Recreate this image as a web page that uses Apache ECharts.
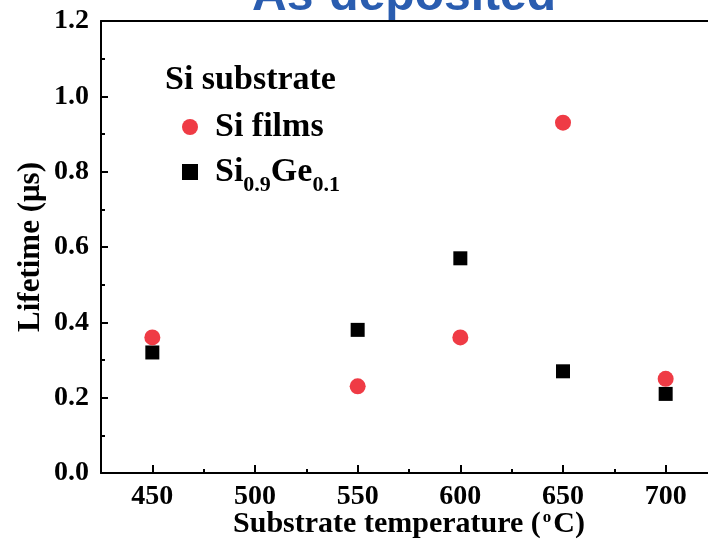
<!DOCTYPE html>
<html>
<head>
<meta charset="utf-8">
<script src="https://cdn.jsdelivr.net/npm/echarts@6/dist/echarts.min.js"></script>
<style>html,body{margin:0;padding:0;background:#fff}#c{width:708px;height:543px}</style>
</head>
<body>
<div id="c"></div>
<script>
var temperatures = [450, 550, 600, 650, 700];
var siFilms = [0.36, 0.23, 0.36, 0.93, 0.25];
var siGe = [0.32, 0.38, 0.57, 0.27, 0.21];
var xMajorTicks = [450, 500, 550, 600, 650, 700];
var xMinorTicks = [475, 525, 575, 625, 675];
var seriesNames = ['Si films', 'Si0.9Ge0.1'];

var SERIF = '"Liberation Serif", "DejaVu Serif", serif';
var chart = echarts.init(document.getElementById('c'), null, {renderer: 'canvas'});

function pairs(xs, ys) { return xs.map(function (x, i) { return [x, ys[i]]; }); }

var option = {
  backgroundColor: '#fff',
  animation: false,
  grid: {left: 101, top: 21, width: 616, height: 452, containLabel: false, outerBoundsMode: 'none'},
  graphic: [
    {type: 'text', left: 252, top: -27, style: {text: 'As-deposited', font: 'bold 48px "Liberation Sans", Arial, sans-serif', fill: '#2a5db0'}},
    {type: 'text', left: 165, top: 63, style: {text: 'Si substrate', font: 'bold 34px ' + SERIF, fill: '#000'}}
  ],
  legend: {
    orient: 'vertical', left: 177, top: 105, itemGap: 11,
    itemWidth: 16, itemHeight: 16,
    data: [{name: seriesNames[0], icon: 'circle'}, {name: seriesNames[1], icon: 'rect'}],
    formatter: function (n) {
      if (n === seriesNames[1]) return '{b|Si}{s|0.9}{b|Ge}{s|0.1}';
      return '{b|' + n + '}';
    },
    textStyle: {
      padding: [0, 0, 0, 12],
      rich: {
        b: {fontFamily: SERIF, fontWeight: 'bold', fontSize: 34, color: '#000'},
        s: {fontFamily: SERIF, fontWeight: 'bold', fontSize: 22, color: '#000', padding: [26, 0, 0, 0]}
      }
    }
  },
  xAxis: [
    {
      type: 'value', min: 425, max: 725, position: 'bottom',
      axisLine: {show: true, onZero: false, lineStyle: {color: '#000', width: 2}},
      axisTick: {show: true, inside: true, length: 8, lineStyle: {width: 2, color: '#000'}, customValues: xMajorTicks},
      axisLabel: {customValues: xMajorTicks, margin: 10, color: '#000', fontFamily: SERIF, fontWeight: 'bold', fontSize: 28},
      splitLine: {show: false},
      name: '{t|Substrate temperature (}{sup|o}{t|C)}', nameLocation: 'middle', nameGap: 36, nameMoveOverlap: false,
      nameTextStyle: {rich: {
        t: {fontFamily: SERIF, fontWeight: 'bold', fontSize: 30, color: '#000'},
        sup: {fontFamily: SERIF, fontWeight: 'bold', fontSize: 17, color: '#000', padding: [0, 2, 14, 2]}
      }}
    },
    {
      type: 'value', min: 425, max: 725, position: 'bottom',
      axisLine: {show: false},
      axisTick: {show: true, inside: true, length: 4, lineStyle: {width: 2, color: '#000'}, customValues: xMinorTicks},
      axisLabel: {show: false}, splitLine: {show: false}
    },
    {
      type: 'value', min: 425, max: 725, position: 'top',
      axisLine: {show: true, onZero: false, lineStyle: {color: '#000', width: 2}},
      axisTick: {show: false}, axisLabel: {show: false}, splitLine: {show: false}
    }
  ],
  yAxis: {
    type: 'value', min: 0, max: 1.2, interval: 0.2,
    axisLine: {show: true, onZero: false, lineStyle: {color: '#000', width: 2}},
    axisTick: {show: true, inside: true, length: 7, lineStyle: {width: 2, color: '#000'}},
    minorTick: {show: true, splitNumber: 2, length: 4, lineStyle: {width: 2, color: '#000'}},
    axisLabel: {margin: 12, color: '#000', fontFamily: SERIF, fontWeight: 'bold', fontSize: 28,
      formatter: function (v) { return v.toFixed(1); }},
    splitLine: {show: false},
    name: 'Lifetime (μs)', nameLocation: 'middle', nameGap: 55, nameMoveOverlap: false,
    nameTextStyle: {fontFamily: SERIF, fontWeight: 'bold', fontSize: 31, color: '#000'}
  },
  series: [
    {name: seriesNames[0], type: 'scatter', xAxisIndex: 0, symbol: 'circle', symbolSize: 16,
      itemStyle: {color: '#ef3b45', opacity: 1}, data: pairs(temperatures, siFilms), z: 3},
    {name: seriesNames[1], type: 'scatter', xAxisIndex: 0, symbol: 'rect', symbolSize: 14,
      itemStyle: {color: '#000', opacity: 1}, data: pairs(temperatures, siGe), z: 2}
  ]
};
chart.setOption(option);
</script>
</body>
</html>
